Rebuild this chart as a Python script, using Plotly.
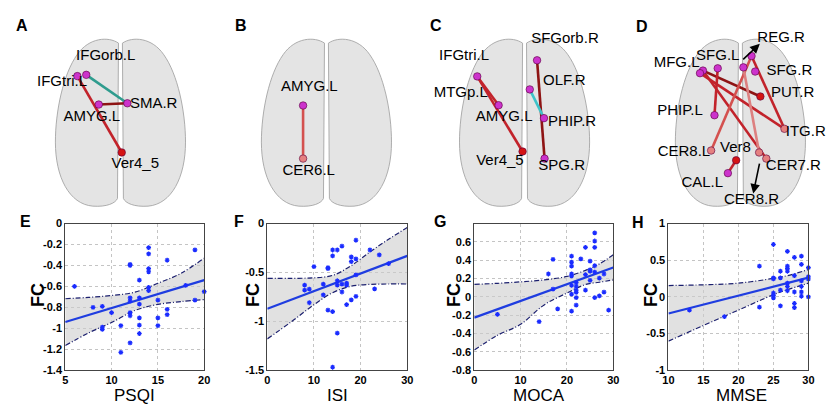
import plotly.graph_objects as go

FONT = "Liberation Sans, Arial, sans-serif"

# ---------------- correlation panels E-H ----------------
psqi = [6, 8, 9, 9, 9, 10, 11, 11, 12, 12, 12, 12, 12, 12, 12, 13, 13, 13, 13, 13, 13,
        14, 14, 14, 14, 14, 14, 15, 15, 15, 16, 16, 16, 18, 19, 19, 20]
fc_psqi = [-0.60, -0.80, -0.79, -0.99, -1.01, -0.85, -0.975, -1.23,
           -0.39, -0.40, -0.71, -0.74, -0.85, -0.88, -1.14,
           -0.54, -0.71, -0.77, -0.90, -0.97, -1.05,
           -0.23, -0.29, -0.43, -0.46, -0.61, -0.64,
           -0.73, -0.90, -0.975, -0.35, -0.82, -0.87, -0.59, -0.25, -0.73, -0.65]
psqi_fit_x = [5, 20]
psqi_fit_y = [-0.94, -0.54]
psqi_ci_x = [5, 7.5, 10, 12.5, 15, 17.5, 20]
psqi_ci_hi = [-0.718, -0.705, -0.687, -0.655, -0.57, -0.475, -0.33]
psqi_ci_lo = [-1.165, -1.045, -0.945, -0.83, -0.772, -0.745, -0.725]

isi = [8, 8, 9, 9, 10, 12, 12, 13, 13, 13, 14, 14, 14, 14, 15, 15, 15, 15,
       16, 16, 16, 17, 17, 17, 18, 18, 18, 19, 19, 19, 19, 22, 23, 24, 26]
fc_isi = [-0.63, -0.68, -0.67, -0.81, -0.44, -0.62, -0.73, -0.45, -0.46, -0.885,
          -0.27, -0.33, -0.90, -1.47, -0.27, -0.585, -0.63, -1.12,
          -0.23, -0.62, -0.70, -0.61, -0.63, -0.83, -0.34, -0.39, -0.78,
          -0.17, -0.36, -0.525, -0.745, -0.27, -0.667, -0.32, -0.41]
isi_fit_x = [0, 30]
isi_fit_y = [-0.872, -0.33]
isi_ci_x = [0, 5, 10, 14, 18, 22, 26, 30]
isi_ci_hi = [-0.56, -0.56, -0.555, -0.53, -0.43, -0.29, -0.16, -0.04]
isi_ci_lo = [-1.18, -1.01, -0.83, -0.707, -0.64, -0.622, -0.618, -0.618]

moca = [5, 14, 16, 17, 17, 18, 21, 21, 21, 21, 21, 21, 21, 21,
        22, 22, 22, 22, 22, 22, 23, 24, 24, 24, 25, 25, 25, 25,
        26, 26, 26, 26, 26, 26, 27, 27, 28, 28, 29]
fc_moca = [-0.19, -0.27, 0.25, 0.41, 0.085, -0.13,
           0.445, 0.38, 0.335, 0.25, 0.23, 0.127, 0.03, -0.155,
           0.155, 0.116, 0.074, 0.05, -0.007, -0.09, 0.416,
           0.54, 0.243, 0.074, 0.39, 0.296, 0.28, 0.18,
           0.70, 0.61, 0.54, 0.34, 0.27, -0.007, 0.205, 0.01, 0.25, 0.053, -0.145]
moca_fit_x = [0, 30]
moca_fit_y = [-0.227, 0.321]
moca_ci_x = [0, 5, 10, 15, 20, 24, 27, 30]
moca_ci_hi = [0.136, 0.148, 0.164, 0.185, 0.223, 0.29, 0.36, 0.46]
moca_ci_lo = [-0.58, -0.42, -0.30, -0.09, 0.042, 0.135, 0.16, 0.185]

mmse = [13, 18, 23, 23, 25, 25, 25, 25, 25, 25, 26, 26, 26, 26,
        27, 27, 27, 27, 27, 27, 27, 28, 28, 28, 28, 28,
        29, 29, 29, 29, 29, 29, 30, 30, 30, 30]
fc_mmse = [-0.18, -0.27, 0.42, -0.14, 0.715, 0.26, 0.245, 0.053, 0.02, -0.013,
           0.35, 0.26, 0.093, -0.124, 0.62, 0.42, 0.387, 0.35, 0.187, 0.142, 0.084,
           0.54, 0.29, 0.067, -0.09, -0.147, 0.555, 0.444, 0.218, 0.142, 0.067, 0.009,
           0.40, 0.275, 0.244, 0.0]
mmse_fit_x = [10, 30]
mmse_fit_y = [-0.227, 0.262]
mmse_ci_x = [10, 15, 20, 25, 27, 30]
mmse_ci_hi = [0.155, 0.165, 0.187, 0.253, 0.29, 0.373]
mmse_ci_lo = [-0.604, -0.39, -0.18, 0.03, 0.098, 0.187]

e_yticks = [0, -0.2, -0.4, -0.6, -0.8, -1, -1.2, -1.4]
e_ylabels = ['0', '-0.2', '-0.4', '-0.6', '-0.8', '-1', '-1.2', '-1.4']
f_yticks = [0, -0.5, -1, -1.5]
f_ylabels = ['0', '-0.5', '-1', '-1.5']
g_yticks = [0.6, 0.4, 0.2, 0, -0.2, -0.4, -0.6, -0.8]
g_ylabels = ['0.6', '0.4', '0.2', '0', '-0.2', '-0.4', '-0.6', '-0.8']
h_yticks = [1, 0.5, 0, -0.5, -1]
h_ylabels = ['1', '0.5', '0', '-0.5', '-1']

# ---------------- brain network panels A-D (local pixel coords) ----------------
a_nodes = ['IFGorb.L', 'IFGtri.L', 'AMYG.L', 'SMA.R', 'Ver4_5']
a_nx = [73.3, 64.3, 86, 115, 109.3]
a_ny = [62.7, 64, 93.3, 92, 142.7]
a_kind = ['m', 'm', 'm', 'm', 'r']
a_lx = [93, 48.7, 79, 141.7, 123]
a_ly = [44, 70.7, 106, 92.7, 155]
a_edges = [(0, 3, 'teal'), (1, 4, 'red'), (2, 3, 'dark')]

b_nodes = ['AMYG.L', 'CER6.L']
b_nx = [88.3, 88.3]
b_ny = [94.3, 149]
b_kind = ['m', 'p']
b_lx = [94.7, 94]
b_ly = [75, 162.3]
b_edges = [(0, 1, 'light')]

c_nodes = ['SFGorb.R', 'IFGtri.L', 'OLF.R', 'MTGp.L', 'AMYG.L', 'PHIP.R', 'Ver4_5', 'SPG.R']
c_nx = [120.7, 60, 113.3, None, 81.7, 127.7, 106, 128.3]
c_ny = [47.7, 64.3, 77.7, None, 94, 107.3, 141.7, 149]
c_kind = ['m', 'm', 'm', 'm', 'm', 'm', 'r', 'm']
c_lx = [149, 46.7, 148.3, 43.3, 87.3, 156.3, 83, 145.7]
c_ly = [26, 44, 69, 81.7, 106, 111.7, 151.7, 157.3]
c_edges = [(0, 7, 'dark'), (2, 5, 'cyan'), (1, 6, 'red'), (1, 4, 'red')]

d_nodes = ['REG.R', 'SFG.L', 'MFG.L', 'MFG.L ', 'SFG.R', 'SFG.R ', 'PUT.R', 'PHIP.L',
           'ITG.R', 'CER8.L', 'Ver8', 'CER7.R', 'CER8.R', 'CAL.L']
d_nx = [128.3, 94, 79, 76, 132, 120, 137.3, 90.7, 161.7, 87.3, 112.7, 143.3, 136, 104.3]
d_ny = [43.3, 56, 58.3, 61, 59.3, 55, 85, 104.3, 118.3, 140.7, 150.7, 149, 142.7, 164]
d_kind = ['m', 'm', 'm', 'm', 'm', 'm', 'r', 'm', 'p', 'p', 'r', 'p', 'p', 'm']
d_labels = ['REG.R', 'SFG.L', 'MFG.L', 'SFG.R', 'PUT.R', 'PHIP.L', 'ITG.R',
            'CER8.L', 'Ver8', 'CER7.R', 'CAL.L', 'CER8.R']
d_lx = [158.3, 94, 52.3, 166.7, 170, 55.7, 183.3, 59.7, 112, 170.7, 78.3, 128.3]
d_ly = [25, 44, 50.7, 59.3, 81.7, 100.7, 121.7, 142.7, 138.7, 157.3, 174, 192.3]
d_edges = [(2, 6, 'dark'), (3, 8, 'red'), (2, 11, 'red'), (1, 7, 'red'),
           (0, 9, 'light'), (0, 8, 'red'), (5, 12, 'pink'), (10, 13, 'red')]

NODE_COL = {'m': '#cc33cc', 'r': '#d41414', 'p': '#e58080'}
EDGE_COL = {'teal': '#2f9c8e', 'red': '#c2232b', 'dark': '#8e1414',
            'light': '#d4514f', 'cyan': '#3fc3c9', 'pink': '#dd8080'}
DOT_BLUE = '#1a2cff'

fig = go.Figure()

# ---- bottom row ----
panels = [
    (psqi, fc_psqi, psqi_fit_x, psqi_fit_y, psqi_ci_x, psqi_ci_hi, psqi_ci_lo),
    (isi, fc_isi, isi_fit_x, isi_fit_y, isi_ci_x, isi_ci_hi, isi_ci_lo),
    (moca, fc_moca, moca_fit_x, moca_fit_y, moca_ci_x, moca_ci_hi, moca_ci_lo),
    (mmse, fc_mmse, mmse_fit_x, mmse_fit_y, mmse_ci_x, mmse_ci_hi, mmse_ci_lo),
]
for i, (xs, ys, fx, fy, cx, chi, clo) in enumerate(panels):
    ax = '' if i == 0 else str(i + 1)
    xa, ya = 'x' + ax, 'y' + ax
    fig.add_trace(go.Scatter(x=cx, y=clo, mode='lines', line=dict(width=0), line_shape='spline',
                             xaxis=xa, yaxis=ya, showlegend=False, hoverinfo='skip'))
    fig.add_trace(go.Scatter(x=cx, y=chi, mode='lines', line=dict(width=0), line_shape='spline',
                             fill='tonexty', fillcolor='rgba(205,205,205,0.6)',
                             xaxis=xa, yaxis=ya, showlegend=False, hoverinfo='skip'))
    for band in (chi, clo):
        fig.add_trace(go.Scatter(x=cx, y=band, mode='lines', line_shape='spline',
                                 line=dict(color='#1b1f6e', width=1.2, dash='5px,2px,1px,2px'),
                                 xaxis=xa, yaxis=ya, showlegend=False))
    fig.add_trace(go.Scatter(x=fx, y=fy, mode='lines', line=dict(color='#1f3de0', width=2.2),
                             xaxis=xa, yaxis=ya, showlegend=False))
    fig.add_trace(go.Scatter(x=xs, y=ys, mode='markers', cliponaxis=False,
                             marker=dict(symbol='asterisk-open', size=4, color=DOT_BLUE,
                                         line=dict(color=DOT_BLUE, width=1.2)),
                             xaxis=xa, yaxis=ya, showlegend=False))

# ---- top row ----
top = [
    (a_nodes, a_nx, a_ny, a_kind, a_nodes, a_lx, a_ly, a_edges),
    (b_nodes, b_nx, b_ny, b_kind, b_nodes, b_lx, b_ly, b_edges),
    (c_nodes, c_nx, c_ny, c_kind, c_nodes, c_lx, c_ly, c_edges),
    (d_nodes, d_nx, d_ny, d_kind, d_labels, d_lx, d_ly, d_edges),
]
for k, (names, nx, ny, kind, labels, lx, ly, edges) in enumerate(top):
    xa, ya = 'x%d' % (k + 5), 'y%d' % (k + 5)
    for a, b, col in edges:
        fig.add_trace(go.Scatter(x=[nx[a], nx[b]], y=[ny[a], ny[b]], mode='lines',
                                 line=dict(color=EDGE_COL[col], width=2.6),
                                 xaxis=xa, yaxis=ya, showlegend=False))
    fig.add_trace(go.Scatter(x=nx, y=ny, mode='markers',
                             marker=dict(size=7.5, color=[NODE_COL[t] for t in kind],
                                         line=dict(color='rgba(90,0,60,0.6)', width=1)),
                             xaxis=xa, yaxis=ya, showlegend=False))
    fig.add_trace(go.Scatter(x=lx, y=ly, mode='text', text=labels,
                             textfont=dict(size=15, color='black', family=FONT),
                             xaxis=xa, yaxis=ya, showlegend=False))

# brain outlines (two hemispheres per panel)
brain_cx = [108, 112, 108, 117]
widths = [205, 205, 210, 214]
offsets = [0, 205, 410, 620]
hemi = [(-2, 30), (-12, 23), (-32, 24), (-44, 42), (-58, 62), (-66, 100), (-66, 132),
        (-66, 168), (-52, 196), (-28, 198), (-14, 199), (-5, 195), (-3, 190)]
shapes = []
for k, c in enumerate(brain_cx):
    for s in (1, -1):
        p = [(c + s * dx, y) for dx, y in hemi]
        path = 'M %.1f,%.1f ' % p[0]
        for j in range(1, 13, 3):
            path += 'C %.1f,%.1f %.1f,%.1f %.1f,%.1f ' % (p[j] + p[j + 1] + p[j + 2])
        path += 'Z'
        shapes.append(dict(type='path', path=path, xref='x%d' % (k + 5), yref='y%d' % (k + 5),
                           fillcolor='rgba(205,205,205,0.55)',
                           line=dict(color='rgba(165,165,165,0.9)', width=1), layer='below'))

layout = dict(width=834, height=406, margin=dict(l=0, r=0, t=0, b=0),
              plot_bgcolor='white', paper_bgcolor='white',
              font=dict(family=FONT, color='black'), shapes=shapes)

bx = [(52, 193), (257, 399), (467, 608), (664, 806)]
xr = [[5, 20], [0, 30], [0, 30], [10, 30]]
xt = [[5, 10, 15, 20], [0, 10, 20, 30], [0, 10, 20, 30], [10, 15, 20, 25, 30]]
yr = [[-1.4, 0], [-1.5, 0], [-0.8, 0.8], [-1, 1]]
yt = [(e_yticks, e_ylabels), (f_yticks, f_ylabels), (g_yticks, g_ylabels), (h_yticks, h_ylabels)]
for i in range(4):
    ax = '' if i == 0 else str(i + 1)
    common = dict(showgrid=True, gridcolor='#c4c4c4', griddash='dot', gridwidth=1,
                  showline=True, linecolor='#444', linewidth=1, mirror=True, zeroline=False,
                  ticks='', tickfont=dict(size=11, weight='bold', family=FONT))
    layout['xaxis' + ax] = dict(domain=[bx[i][0] / 834, bx[i][1] / 834], range=xr[i],
                                tickvals=xt[i], anchor='y' + ax, **common)
    layout['yaxis' + ax] = dict(domain=[1 - 367 / 406, 1 - 216 / 406], range=yr[i],
                                tickvals=yt[i][0], ticktext=yt[i][1], anchor='x' + ax, **common)
for k in range(4):
    n = k + 5
    layout['xaxis%d' % n] = dict(domain=[offsets[k] / 834, (offsets[k] + widths[k]) / 834],
                                 range=[0, widths[k]], visible=False, anchor='y%d' % n)
    layout['yaxis%d' % n] = dict(domain=[1 - 200 / 406, 1], range=[200, 0], visible=False,
                                 anchor='x%d' % n)
fig.update_layout(**layout)

ann = []
for t, x, y in [('A', 8, 12), ('B', 230, 12), ('C', 428, 12), ('D', 637, 13),
                ('E', 12, 214), ('F', 228, 214), ('G', 432, 214), ('H', 633, 215)]:
    ann.append(dict(text='<b>%s</b>' % t, x=x / 834, y=1 - y / 406, xref='paper', yref='paper',
                    showarrow=False, font=dict(size=16), xanchor='center', yanchor='middle'))
for t, x in [('PSQI', 122), ('ISI', 328), ('MOCA', 533), ('MMSE', 738)]:
    ann.append(dict(text=t, x=x / 834, y=1 - 393 / 406, xref='paper', yref='paper',
                    showarrow=False, font=dict(size=17), xanchor='center', yanchor='middle'))
for x in [25, 243, 447, 647]:
    ann.append(dict(text='<b>FC</b>', x=x / 834, y=1 - 290 / 406, xref='paper', yref='paper',
                    showarrow=False, font=dict(size=18), textangle=-90,
                    xanchor='center', yanchor='middle'))
# arrows in panel D
for (x0, y0, x1, y1) in [(118.3, 48.3, 136.7, 30.7), (136.7, 152.7, 130, 185)]:
    ann.append(dict(x=x1, y=y1, ax=x0, ay=y0, xref='x8', yref='y8', axref='x8', ayref='y8',
                    text='', showarrow=True, arrowhead=2, arrowsize=1.2, arrowwidth=1.6,
                    arrowcolor='black'))
fig.update_layout(annotations=ann)

fig.write_html("out.html")
